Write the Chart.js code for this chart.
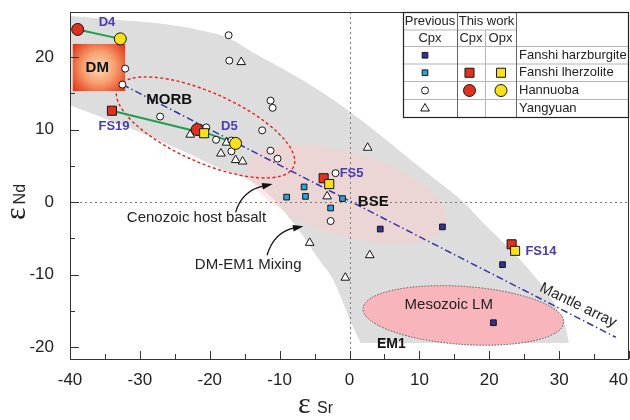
<!DOCTYPE html>
<html>
<head>
<meta charset="utf-8">
<title>εNd vs εSr</title>
<script src="https://cdn.jsdelivr.net/npm/chart.js@4.4.1/dist/chart.umd.min.js"></script>
<style>
  html, body { margin: 0; padding: 0; background: #fff; }
  #wrap { width: 630px; height: 420px; }
</style>
</head>
<body>
<div id="wrap"><canvas id="isoChart" width="630" height="420"></canvas></div>
<script>
const SANS = '"Liberation Sans", Arial, Helvetica, sans-serif';
const SERIF = '"Liberation Serif", "DejaVu Serif", serif';

// axis ticks
const xTicks = [-40, -30, -20, -10, 0, 10, 20, 30, 40];
const xMinorTicks = [-35, -25, -15, -5, 5, 15, 25, 35];
const yTicks = [-20, -10, 0, 10, 20];
const yMinorTicks = [-15, -5, 5, 15];
const X_MAX = 40;
const X_LABEL_PAD = 3;

// previous Cpx data [εSr, εNd]
const harzburgitePrev = [[4.4, -3.7], [13.3, -3.4], [21.9, -8.6], [20.6, -16.6]];
const lherzolitePrev = [[-6.5, 2.1], [-9.0, 0.7], [-6.3, 0.8], [-1.0, 0.5], [-2.7, -0.8]];
const hannuobaPrev = [
  [-32.1, 18.4], [-32.5, 16.2], [-17.3, 23.0], [-17.2, 19.5], [-11.3, 14.0], [-11.0, 13.0],
  [-27.1, 11.8], [-20.5, 10.3], [-19.1, 8.6], [-12.5, 9.9], [-16.9, 7.0], [-16.9, 8.5],
  [-11.3, 7.1], [-10.3, 6.0], [-2.0, 4.0], [-2.7, -2.6]
];
const yangyuanPrev = [
  [-15.5, 19.3], [-22.8, 9.3], [-17.6, 8.2], [-18.4, 6.7], [-16.3, 5.8], [-15.3, 5.6],
  [2.6, 7.5], [-3.2, 0.8], [-5.7, -5.6], [2.9, -7.3], [-0.6, -10.4]
];

// this work: FS19, FS5, FS14 / D4, D5
const lherzoliteCpx = [[-34.0, 12.6], [-3.7, 3.3], [23.2, -5.8]];
const lherzoliteOpx = [[-20.8, 9.5], [-2.9, 2.5], [23.7, -6.7]];
const hannuobaCpx = [[-38.9, 23.8], [-21.8, 10.0]];
const hannuobaOpx = [[-32.8, 22.5], [-16.3, 8.1]];

const mantleArray = [[-32.5, 16.2], [38.1, -18.6]];

// grey DM-EM1 field, upper edge then lower edge
const bandUpper = [
  [-40.9, 25.7], [-34.3, 25.2], [-27.1, 24.6], [-21.4, 23.7], [-17.3, 22.6], [-13.2, 20.3],
  [-8.5, 17.8], [-3.7, 15.0], [1.1, 11.7], [5.9, 8.1], [10.6, 4.4], [15.5, 0.7],
  [19.2, -2.9], [24.1, -7.6], [28.4, -12.6], [30.7, -16.7], [31.4, -19.4]
];
const bandLower = [
  [1.6, -19.4], [0.1, -16.3], [-2.3, -10.8], [-4.6, -7.6], [-8.0, -2.9], [-12.8, 2.1],
  [-18.9, 4.8], [-24.2, 7.2], [-31.4, 10.2], [-40.9, 13.7]
];

const toXY = pts => pts.map(([x, y]) => ({ x, y }));

function marks(label, pts, style, radius, fill, order) {
  return {
    label, data: toXY(pts), order,
    showLine: false,
    pointStyle: style, pointRadius: radius, pointHoverRadius: radius,
    pointBackgroundColor: fill, pointBorderColor: '#151515', pointBorderWidth: 1
  };
}

function segment(pts, color, width, dash, order) {
  return {
    data: toXY(pts), order,
    showLine: true, pointRadius: 0, pointHoverRadius: 0,
    borderColor: color, borderWidth: width, borderDash: dash
  };
}

const RED = '#e0301e';
const YELLOW = '#f9e11a';
const INDIGO = '#36309a';
const CYAN = '#2aa3d6';
const LABEL_BLUE = '#473db0';

// Cpx-Opx pairs joined by tie lines (D4, FS19, D5)
const tiePairs = [
  [hannuobaCpx[0], hannuobaOpx[0]],
  [lherzoliteCpx[0], lherzoliteOpx[0]],
  [hannuobaCpx[1], hannuobaOpx[1]]
];

const datasets = [
  marks('Fanshi lherzolite Opx', lherzoliteOpx, 'rect', 6.4, YELLOW, 0),
  marks('Hannuoba Opx', hannuobaOpx, 'circle', 6, YELLOW, 1),
  marks('Fanshi lherzolite Cpx', lherzoliteCpx, 'rect', 6.4, RED, 2),
  marks('Hannuoba Cpx', hannuobaCpx, 'circle', 6, RED, 3),
  marks('Fanshi harzburgite', harzburgitePrev, 'rect', 4, INDIGO, 4),
  marks('Fanshi lherzolite', lherzolitePrev, 'rect', 4, CYAN, 5),
  marks('Hannuoba', hannuobaPrev, 'circle', 3.5, '#fff', 6),
  marks('Yangyuan', yangyuanPrev, 'triangle', 5, '#fff', 7),
  ...tiePairs.map(p => segment(p, '#1f9e50', 2, [], 8)),
  segment(mantleArray, '#3434a8', 1.5, [7, 3, 1.5, 3], 9)
];

// smooth path through points (Catmull-Rom)
function curveThrough(ctx, p, move) {
  if (move) ctx.moveTo(p[0][0], p[0][1]); else ctx.lineTo(p[0][0], p[0][1]);
  for (let i = 0; i < p.length - 1; i++) {
    const p0 = p[Math.max(i - 1, 0)], p1 = p[i], p2 = p[i + 1], p3 = p[Math.min(i + 2, p.length - 1)];
    ctx.bezierCurveTo(
      p1[0] + (p2[0] - p0[0]) / 6, p1[1] + (p2[1] - p0[1]) / 6,
      p2[0] - (p3[0] - p1[0]) / 6, p2[1] - (p3[1] - p1[1]) / 6,
      p2[0], p2[1]);
  }
}

function ellipsePath(ctx, xs, ys, e) {
  const cx = xs.getPixelForValue(e.x), cy = ys.getPixelForValue(e.y);
  const rx = Math.abs(xs.getPixelForValue(e.x + e.rx) - cx);
  const ry = Math.abs(ys.getPixelForValue(e.y + e.ry) - cy);
  ctx.beginPath();
  ctx.ellipse(cx, cy, rx, ry, e.tilt * Math.PI / 180, 0, Math.PI * 2);
}

const morbField = { x: -20.6, y: 10.3, rx: 13.8, ry: 4.8, tilt: 24 };
const bseField = { x: -0.3, y: 1.1, rx: 14.8, ry: 5.7, tilt: 17 };
const lmField = { x: 16.3, y: -15.6, rx: 14.4, ry: 4.0, tilt: 4 };
const dmBox = { x0: -39.6, x1: -32.1, y0: 15.3, y1: 21.8 };

const fieldsPlugin = {
  id: 'fields',
  beforeDatasetsDraw(chart) {
    const { ctx, chartArea: a, scales: { x, y } } = chart;
    const px = pts => pts.map(([vx, vy]) => [x.getPixelForValue(vx), y.getPixelForValue(vy)]);
    ctx.save();
    ctx.beginPath();
    ctx.rect(a.left, a.top, a.right - a.left, a.bottom - a.top);
    ctx.clip();

    // grey mixing band
    ctx.beginPath();
    curveThrough(ctx, px(bandUpper), true);
    curveThrough(ctx, px(bandLower), false);
    ctx.closePath();
    ctx.fillStyle = '#dddddd';
    ctx.fill();

    // BSE field
    ellipsePath(ctx, x, y, bseField);
    ctx.fillStyle = 'rgba(255, 205, 205, 0.45)';
    ctx.fill();

    // zero lines
    ctx.strokeStyle = '#7a7a7a';
    ctx.lineWidth = 1;
    ctx.setLineDash([2, 3]);
    const x0 = Math.round(x.getPixelForValue(0)) + 0.5;
    const y0 = Math.round(y.getPixelForValue(0)) + 0.5;
    ctx.beginPath();
    ctx.moveTo(x0, a.top); ctx.lineTo(x0, a.bottom);
    ctx.moveTo(a.left, y0); ctx.lineTo(a.right, y0);
    ctx.stroke();

    // Mesozoic lithospheric mantle
    ellipsePath(ctx, x, y, lmField);
    ctx.fillStyle = '#f8b5bb';
    ctx.setLineDash([1.5, 1.5]);
    ctx.strokeStyle = '#555';
    ctx.fill();
    ctx.stroke();

    // MORB field outline
    ellipsePath(ctx, x, y, morbField);
    ctx.setLineDash([3, 2.5]);
    ctx.strokeStyle = '#e2231a';
    ctx.lineWidth = 1.4;
    ctx.stroke();
    ctx.setLineDash([]);

    // DM box with soft glow
    const bx0 = x.getPixelForValue(dmBox.x0), bx1 = x.getPixelForValue(dmBox.x1);
    const by0 = y.getPixelForValue(dmBox.y1), by1 = y.getPixelForValue(dmBox.y0);
    const cx = (bx0 + bx1) / 2, cy = (by0 + by1) / 2;
    const g = ctx.createRadialGradient(cx, cy, 2, cx, cy, (bx1 - bx0) * 0.62);
    g.addColorStop(0, '#fcd2ae');
    g.addColorStop(0.45, '#f7a070');
    g.addColorStop(1, '#e43c1c');
    ctx.fillStyle = g;
    ctx.fillRect(bx0, by0, bx1 - bx0, by1 - by0);
    ctx.restore();
  }
};

// text annotations in data units
const annotations = [
  { text: 'D4', x: -34.7, y: 24.7, bold: true, size: 13, color: LABEL_BLUE },
  { text: 'FS19', x: -33.7, y: 10.5, bold: true, size: 13, color: LABEL_BLUE },
  { text: 'D5', x: -17.2, y: 10.5, bold: true, size: 13, color: LABEL_BLUE },
  { text: 'FS5', x: 0.3, y: 3.9, bold: true, size: 13, color: LABEL_BLUE },
  { text: 'FS14', x: 27.4, y: -6.8, bold: true, size: 13, color: LABEL_BLUE },
  { text: 'DM', x: -36.1, y: 18.5, bold: true, size: 15, color: '#111' },
  { text: 'MORB', x: -25.8, y: 14.1, bold: true, size: 15, color: '#111' },
  { text: 'BSE', x: 3.4, y: 0.1, bold: true, size: 15, color: '#111' },
  { text: 'EM1', x: 6.0, y: -19.6, bold: true, size: 14, color: '#111' },
  { text: 'Mesozoic LM', x: 14.2, y: -14.2, bold: false, size: 15, color: '#222' },
  { text: 'Cenozoic host basalt', x: -21.9, y: -2.2, bold: false, size: 15, color: '#222' },
  { text: 'DM-EM1 Mixing', x: -14.5, y: -8.6, bold: false, size: 15, color: '#222' },
  { text: 'Mantle array', x: 32.7, y: -14.2, bold: false, size: 15, color: '#222', angle: 26 }
];

// curved pointers: start, control, tip
const arrows = [
  [[-16.3, -1.4], [-15.4, 1.6], [-11.0, 2.5]],
  [[-11.8, -7.3], [-10.8, -4.1], [-6.6, -3.3]]
];

const legendRows = [
  { name: 'Fanshi harzburgite', prev: ['rect', 4, INDIGO] },
  { name: 'Fanshi lherzolite', prev: ['rect', 4, CYAN], cpx: ['rect', 6.4, RED], opx: ['rect', 6.4, YELLOW] },
  { name: 'Hannuoba', prev: ['circle', 3.5, '#fff'], cpx: ['circle', 6, RED], opx: ['circle', 6, YELLOW] },
  { name: 'Yangyuan', prev: ['triangle', 5, '#fff'] }
];

function symbol(ctx, spec, px, py) {
  const [style, radius, fill] = spec;
  ctx.fillStyle = fill;
  ctx.strokeStyle = '#151515';
  ctx.lineWidth = 1;
  Chart.helpers.drawPoint(ctx, { pointStyle: style, radius, rotation: 0, borderWidth: 1 }, px, py);
}

const overlayPlugin = {
  id: 'overlay',
  afterDatasetsDraw(chart) {
    const { ctx, chartArea: a, scales: { x, y } } = chart;
    ctx.save();

    // labels
    ctx.textAlign = 'center';
    ctx.textBaseline = 'middle';
    annotations.forEach(t => {
      ctx.font = `${t.bold ? 'bold ' : ''}${t.size}px ${SANS}`;
      ctx.fillStyle = t.color;
      const tx = x.getPixelForValue(t.x), ty = y.getPixelForValue(t.y);
      if (t.angle) {
        ctx.save();
        ctx.translate(tx, ty);
        ctx.rotate(t.angle * Math.PI / 180);
        ctx.fillText(t.text, 0, 0);
        ctx.restore();
      } else {
        ctx.fillText(t.text, tx, ty);
      }
    });

    // arrows
    ctx.strokeStyle = '#111';
    ctx.fillStyle = '#111';
    ctx.lineWidth = 1.3;
    arrows.forEach(([s, c, e]) => {
      const S = [x.getPixelForValue(s[0]), y.getPixelForValue(s[1])];
      const C = [x.getPixelForValue(c[0]), y.getPixelForValue(c[1])];
      const E = [x.getPixelForValue(e[0]), y.getPixelForValue(e[1])];
      const ang = Math.atan2(E[1] - C[1], E[0] - C[0]);
      const back = [E[0] - 9 * Math.cos(ang), E[1] - 9 * Math.sin(ang)];
      ctx.beginPath();
      ctx.moveTo(S[0], S[1]);
      ctx.quadraticCurveTo(C[0], C[1], back[0], back[1]);
      ctx.stroke();
      ctx.beginPath();
      ctx.moveTo(E[0], E[1]);
      ctx.lineTo(E[0] - 11 * Math.cos(ang - 0.3), E[1] - 11 * Math.sin(ang - 0.3));
      ctx.lineTo(E[0] - 11 * Math.cos(ang + 0.3), E[1] - 11 * Math.sin(ang + 0.3));
      ctx.closePath();
      ctx.fill();
    });

    // frame and inward ticks
    ctx.strokeStyle = '#333';
    ctx.lineWidth = 1;
    ctx.strokeRect(a.left + 0.5, a.top + 0.5, a.right - a.left - 1, a.bottom - a.top);
    ctx.beginPath();
    xTicks.concat(xMinorTicks).forEach(v => {
      const len = xTicks.includes(v) ? 8 : 5;
      const tx = Math.round(x.getPixelForValue(v)) + 0.5;
      ctx.moveTo(tx, a.bottom); ctx.lineTo(tx, a.bottom - len);
    });
    yTicks.concat(yMinorTicks).forEach(v => {
      const len = yTicks.includes(v) ? 9 : 5;
      const ty = Math.round(y.getPixelForValue(v)) + 0.5;
      ctx.moveTo(a.left, ty); ctx.lineTo(a.left + len, ty);
    });
    ctx.stroke();

    // last x label sits inside the canvas edge
    ctx.fillStyle = '#222';
    ctx.font = `17px ${SANS}`;
    ctx.textAlign = 'right';
    ctx.textBaseline = 'middle';
    ctx.fillText(String(X_MAX), a.right - 1, a.bottom + X_LABEL_PAD + 18.5);

    // legend table
    const L = 403, R = a.right, T = a.top;
    const cols = [403, 457, 485, 516];
    const rows = [T, 29.5, 46, 63.5, 81, 99, 117];
    ctx.fillStyle = '#fff';
    ctx.fillRect(L, T, R - L, rows[6] - T);
    ctx.strokeStyle = '#b5b5b5';
    ctx.beginPath();
    ctx.moveTo(L, rows[1] + 0.5); ctx.lineTo(cols[3], rows[1] + 0.5);
    for (let i = 2; i < 6; i++) { ctx.moveTo(L, rows[i] + 0.5); ctx.lineTo(R, rows[i] + 0.5); }
    ctx.moveTo(cols[2] + 0.5, rows[1]); ctx.lineTo(cols[2] + 0.5, rows[6]);
    ctx.stroke();
    ctx.strokeStyle = '#666';
    ctx.beginPath();
    ctx.moveTo(cols[1] + 0.5, T); ctx.lineTo(cols[1] + 0.5, rows[6]);
    ctx.moveTo(cols[3] + 0.5, T); ctx.lineTo(cols[3] + 0.5, rows[6]);
    ctx.stroke();
    ctx.strokeStyle = '#222';
    ctx.lineWidth = 1.2;
    ctx.strokeRect(L + 0.5, T + 0.5, R - L - 1, rows[6] - T);

    ctx.fillStyle = '#222';
    ctx.font = `13px ${SANS}`;
    ctx.textAlign = 'center';
    ctx.textBaseline = 'middle';
    const mid = i => (rows[i] + rows[i + 1]) / 2 + 0.5;
    ctx.fillText('Previous', (cols[0] + cols[1]) / 2, mid(0));
    ctx.fillText('This work', (cols[1] + cols[3]) / 2, mid(0));
    ctx.fillText('Cpx', (cols[0] + cols[1]) / 2, mid(1));
    ctx.fillText('Cpx', (cols[1] + cols[2]) / 2, mid(1));
    ctx.fillText('Opx', (cols[2] + cols[3]) / 2, mid(1));
    legendRows.forEach((r, i) => {
      const ry = mid(i + 2);
      symbol(ctx, r.prev, 425, ry);
      if (r.cpx) symbol(ctx, r.cpx, 469.5, ry);
      if (r.opx) symbol(ctx, r.opx, 501, ry);
      ctx.fillStyle = '#222';
      ctx.textAlign = 'left';
      ctx.fillText(r.name, 519, ry);
      ctx.textAlign = 'center';
    });

    // axis titles: εNd and εSr
    ctx.fillStyle = '#222';
    ctx.textBaseline = 'alphabetic';
    ctx.textAlign = 'left';
    ctx.font = `30px ${SERIF}`;
    const epsW = ctx.measureText('ε').width;
    ctx.font = `16px ${SANS}`;
    const ndW = ctx.measureText('Nd').width;
    ctx.save();
    ctx.translate(25, 202);
    ctx.rotate(-Math.PI / 2);
    const start = -(epsW + 3 + ndW) / 2;
    ctx.font = `30px ${SERIF}`;
    ctx.fillText('ε', start, 0);
    ctx.font = `16px ${SANS}`;
    ctx.fillText('Nd', start + epsW + 3, 0);
    ctx.restore();

    ctx.font = `30px ${SERIF}`;
    ctx.fillText('ε', 298, 413);
    ctx.font = `16px ${SANS}`;
    ctx.fillText('Sr', 317, 413);
    ctx.restore();
  }
};

new Chart(document.getElementById('isoChart'), {
  type: 'scatter',
  data: { datasets },
  options: {
    responsive: false,
    devicePixelRatio: 1,
    animation: false,
    layout: { autoPadding: false, padding: { top: 12, right: 1, left: 0, bottom: 0 } },
    plugins: { legend: { display: false }, tooltip: { enabled: false } },
    scales: {
      x: {
        type: 'linear', min: -40, max: X_MAX,
        afterBuildTicks: s => { s.ticks = xTicks.map(v => ({ value: v })); },
        afterFit: s => { s.height = 61; s.paddingLeft = 0; s.paddingRight = 0; },
        grid: { display: false },
        border: { display: false },
        ticks: {
          padding: X_LABEL_PAD, color: '#222', font: { family: SANS, size: 17 },
          callback: v => (v === X_MAX ? '' : v)
        }
      },
      y: {
        type: 'linear', min: -21.6, max: 26.2,
        afterBuildTicks: s => { s.ticks = yTicks.map(v => ({ value: v })); },
        afterFit: s => { s.width = 70; s.paddingTop = 0; s.paddingBottom = 0; },
        grid: { display: false },
        border: { display: false },
        ticks: { padding: 8, color: '#222', font: { family: SANS, size: 17 } }
      }
    }
  },
  plugins: [fieldsPlugin, overlayPlugin]
});
</script>
</body>
</html>
